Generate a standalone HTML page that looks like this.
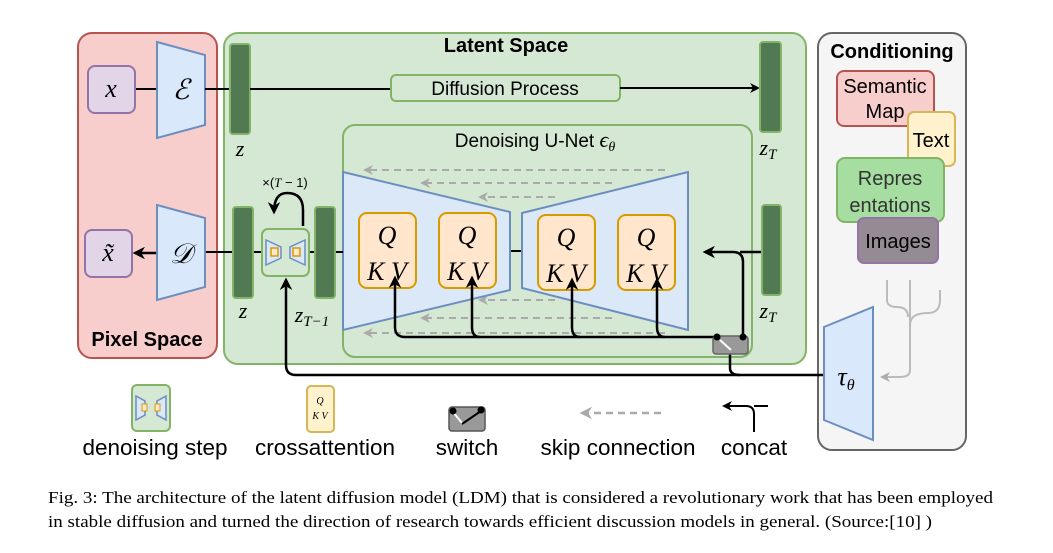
<!DOCTYPE html>
<html><head><meta charset="utf-8"><style>
body{margin:0;background:#fff;width:1053px;height:553px;overflow:hidden}
svg{display:block}
.s{font-family:"Liberation Sans",sans-serif}
.m{font-family:"Liberation Serif",serif;font-style:italic}
</style></head><body>
<svg width="1053" height="553" viewBox="0 0 1053 553">
<defs>
<marker id="a" viewBox="0 0 10 10" refX="8" refY="5" markerWidth="5" markerHeight="5" orient="auto"><path d="M0,0 L10,5 L0,10 L3,5z" fill="#000"/></marker>
<marker id="g" viewBox="0 0 10 10" refX="8" refY="5" markerWidth="5" markerHeight="5" orient="auto"><path d="M0,0 L10,5 L0,10 L3,5z" fill="#aaa"/></marker>
</defs>
<rect x="78" y="33" width="139" height="325" rx="14" fill="#f8cecc" stroke="#b85450" stroke-width="2"/>
<text x="147" y="346" class="s" font-size="20" font-weight="bold" text-anchor="middle">Pixel Space</text>
<rect x="224" y="33" width="582" height="331" rx="14" fill="#d5e8d4" stroke="#82b366" stroke-width="2"/>
<text x="506" y="52" class="s" font-size="20" font-weight="bold" text-anchor="middle">Latent Space</text>
<rect x="818" y="33" width="148" height="417" rx="14" fill="#f5f5f5" stroke="#666" stroke-width="2"/>
<text x="892" y="58" class="s" font-size="20" font-weight="bold" text-anchor="middle">Conditioning</text>
<line x1="135" y1="89" x2="157" y2="89" stroke="#000" stroke-width="2"/>
<rect x="88" y="66" width="47" height="47" rx="7" fill="#e1d5e7" stroke="#9673a6" stroke-width="2"/>
<text x="111" y="97" class="m" font-size="26" text-anchor="middle">x</text>
<polygon points="157,42 205,55 205,125 157,138" fill="#dae8fc" stroke="#6c8ebf" stroke-width="2"/>
<text x="181" y="99" class="m" font-size="28" text-anchor="middle">ℰ</text>
<line x1="205" y1="89" x2="230" y2="89" stroke="#000" stroke-width="2"/>
<rect x="230" y="44" width="20" height="90" rx="3" fill="#527a52" stroke="#82b366" stroke-width="2"/>
<text x="240" y="156" class="m" font-size="22" text-anchor="middle">z</text>
<line x1="250" y1="89" x2="391" y2="89" stroke="#000" stroke-width="2"/>
<rect x="391" y="75" width="229" height="26" rx="5" fill="#d5e8d4" stroke="#82b366" stroke-width="2"/>
<text x="505" y="95" class="s" font-size="19" text-anchor="middle">Diffusion Process</text>
<line x1="620" y1="88" x2="758" y2="88" stroke="#000" stroke-width="2" marker-end="url(#a)"/>
<rect x="760" y="42" width="21" height="90" rx="3" fill="#527a52" stroke="#82b366" stroke-width="2"/>
<text x="768" y="155" class="m" font-size="22" text-anchor="middle">z<tspan font-size="15" dy="4">T</tspan></text>
<rect x="343" y="125" width="409" height="232" rx="12" fill="#d5e8d4" stroke="#82b366" stroke-width="2"/>
<text x="535" y="147" class="s" font-size="19" text-anchor="middle">Denoising U-Net <tspan class="m" font-size="22">ϵ</tspan><tspan class="m" font-size="14" dy="4">θ</tspan></text>
<g stroke="#aaa" stroke-width="2" stroke-dasharray="7,5" fill="none">
<line x1="665" y1="170" x2="365" y2="170" marker-end="url(#g)"/>
<line x1="612" y1="183" x2="422" y2="183" marker-end="url(#g)"/>
<line x1="555" y1="197" x2="480" y2="197" marker-end="url(#g)"/>
<line x1="555" y1="300" x2="480" y2="300" marker-end="url(#g)"/>
<line x1="612" y1="318" x2="422" y2="318" marker-end="url(#g)"/>
<line x1="665" y1="333" x2="365" y2="333" marker-end="url(#g)"/>
</g>
<line x1="510" y1="251" x2="522" y2="251" stroke="#000" stroke-width="2"/>
<polygon points="343,172 510,212 510,290 343,330" fill="#dae8fc" fill-opacity="0.9" stroke="#6c8ebf" stroke-width="2"/>
<polygon points="522,213 688,172 688,330 522,288" fill="#dae8fc" fill-opacity="0.9" stroke="#6c8ebf" stroke-width="2"/>
<g fill="#ffe6cc" stroke="#d79b00" stroke-width="2">
<rect x="359" y="213" width="57" height="75" rx="8"/><rect x="439" y="213" width="57" height="75" rx="8"/>
<rect x="538" y="215" width="57" height="75" rx="8"/><rect x="618" y="215" width="57" height="75" rx="8"/>
</g>
<g class="m" font-size="26" text-anchor="middle">
<text x="387" y="244">Q</text><text x="387" y="280">K V</text>
<text x="467" y="244">Q</text><text x="467" y="280">K V</text>
<text x="566" y="246">Q</text><text x="566" y="282">K V</text>
<text x="646" y="246">Q</text><text x="646" y="282">K V</text>
</g>
<g stroke="#000" stroke-width="2.5" fill="none">
<path d="M720,337 H405 Q395,337 395,327 V278" marker-end="url(#a)"/>
<path d="M480,337 Q472,337 472,327 V278" marker-end="url(#a)"/>
<path d="M580,337 Q572,337 572,327 V280" marker-end="url(#a)"/>
<path d="M665,337 Q657,337 657,327 V280" marker-end="url(#a)"/>
<path d="M743,337 V262 Q743,252 733,252 H705" marker-end="url(#a)"/>
<line x1="762" y1="252" x2="740" y2="252"/>
<path d="M730,350 V368 Q730,375 740,375 H824"/>
<path d="M740,375 H296 Q286,375 286,365 V280" marker-end="url(#a)"/>
</g>
<rect x="713" y="336" width="35" height="18" rx="3" fill="#999" stroke="#666" stroke-width="1.5"/>
<line x1="720" y1="340" x2="731" y2="350" stroke="#fff" stroke-width="2"/>
<circle cx="717" cy="337" r="3.5" fill="#000"/><circle cx="743" cy="337" r="3.5" fill="#000"/>
<rect x="762" y="205" width="19" height="90" rx="3" fill="#527a52" stroke="#82b366" stroke-width="2"/>
<text x="768" y="318" class="m" font-size="22" text-anchor="middle">z<tspan font-size="15" dy="4">T</tspan></text>
<line x1="205" y1="252" x2="233" y2="252" stroke="#000" stroke-width="2"/>
<line x1="253" y1="252" x2="343" y2="252" stroke="#000" stroke-width="2"/>
<rect x="85" y="230" width="47" height="47" rx="7" fill="#e1d5e7" stroke="#9673a6" stroke-width="2"/>
<text x="108" y="261" class="m" font-size="26" text-anchor="middle">x̃</text>
<line x1="157" y1="253" x2="135" y2="253" stroke="#000" stroke-width="2.5" marker-end="url(#a)"/>
<polygon points="157,205 205,218 205,287 157,300" fill="#dae8fc" stroke="#6c8ebf" stroke-width="2"/>
<text x="181" y="263" class="m" font-size="28" text-anchor="middle">𝒟</text>
<rect x="233" y="207" width="20" height="91" rx="3" fill="#527a52" stroke="#82b366" stroke-width="2"/>
<text x="243" y="318" class="m" font-size="22" text-anchor="middle">z</text>
<rect x="262" y="229" width="47" height="47" rx="6" fill="#d5e8d4" stroke="#82b366" stroke-width="2"/>
<polygon points="266,240 281,247 281,258 266,265" fill="#dae8fc" stroke="#6c8ebf" stroke-width="1.5"/>
<polygon points="305,240 290,247 290,258 305,265" fill="#dae8fc" stroke="#6c8ebf" stroke-width="1.5"/>
<rect x="271" y="248" width="7" height="8" fill="#ffe6cc" stroke="#d79b00" stroke-width="1.5"/>
<rect x="293" y="248" width="7" height="8" fill="#ffe6cc" stroke="#d79b00" stroke-width="1.5"/>
<rect x="315" y="207" width="20" height="91" rx="3" fill="#527a52" stroke="#82b366" stroke-width="2"/>
<text x="312" y="322" class="m" font-size="22" text-anchor="middle">z<tspan font-size="15" dy="4">T−1</tspan></text>
<path d="M303,226 V210 Q303,193 287,193 Q274,193 274,212" stroke="#000" stroke-width="2.5" fill="none" marker-end="url(#a)"/>
<text x="285" y="187" class="s" font-size="13" text-anchor="middle">×(<tspan class="m">T</tspan> − 1)</text>
<rect x="837" y="71" width="97" height="55" rx="7" fill="#f8cecc" stroke="#b85450" stroke-width="2"/>
<text x="885" y="93" class="s" font-size="20" text-anchor="middle">Semantic</text>
<text x="885" y="118" class="s" font-size="20" text-anchor="middle">Map</text>
<rect x="908" y="112" width="47" height="54" rx="6" fill="#fff2cc" stroke="#d6b656" stroke-width="2"/>
<text x="931" y="147" class="s" font-size="20" text-anchor="middle">Text</text>
<rect x="837" y="158" width="107" height="64" rx="8" fill="#a5dea0" stroke="#82b366" stroke-width="2"/>
<text x="890" y="185" class="s" font-size="20" text-anchor="middle" fill="#333">Repres</text>
<text x="890" y="212" class="s" font-size="20" text-anchor="middle" fill="#333">entations</text>
<rect x="858" y="218" width="80" height="45" rx="6" fill="#958b95" stroke="#9673a6" stroke-width="2"/>
<text x="898" y="248" class="s" font-size="20" text-anchor="middle">Images</text>
<g stroke="#bbb" stroke-width="2" fill="none">
<path d="M887,280 V300 Q887,307 897,307 Q908,307 908,317"/>
<path d="M940,290 V300 Q940,313 928,313 Q910,313 910,325"/>
<path d="M910,280 V370 Q910,377 900,377 H882" marker-end="url(#g)"/>
</g>
<polygon points="824,327 873,307 873,440 824,420" fill="#dae8fc" stroke="#6c8ebf" stroke-width="2"/>
<text x="846" y="385" class="m" font-size="26" text-anchor="middle">τ<tspan font-size="16" dy="5">θ</tspan></text>
<!-- legend -->
<rect x="132" y="385" width="38" height="46" rx="5" fill="#d5e8d4" stroke="#82b366" stroke-width="2"/>
<polygon points="136,396 145,401 145,415 136,420" fill="#dae8fc" stroke="#6c8ebf" stroke-width="1.5"/>
<polygon points="166,396 157,401 157,415 166,420" fill="#dae8fc" stroke="#6c8ebf" stroke-width="1.5"/>
<rect x="142" y="404" width="5" height="7" fill="#ffe6cc" stroke="#d79b00"/>
<rect x="155" y="404" width="5" height="7" fill="#ffe6cc" stroke="#d79b00"/>
<rect x="307" y="386" width="27" height="46" rx="4" fill="#fff2cc" stroke="#d6b656" stroke-width="2"/>
<text x="320" y="404" class="m" font-size="10" text-anchor="middle">Q</text>
<text x="320" y="419" class="m" font-size="10" text-anchor="middle">K V</text>
<rect x="449" y="407" width="36" height="24" rx="3" fill="#999" stroke="#555" stroke-width="1.5"/>
<line x1="453" y1="412" x2="462" y2="423" stroke="#fff" stroke-width="2"/><line x1="462" y1="424" x2="481" y2="411" stroke="#000" stroke-width="2"/>
<circle cx="453" cy="411" r="3.5" fill="#000"/><circle cx="481" cy="410" r="3.5" fill="#000"/>
<line x1="661" y1="413" x2="582" y2="413" stroke="#aaa" stroke-width="2.5" stroke-dasharray="7,5" marker-end="url(#g)"/>
<path d="M754,432 V414 Q754,406 746,406 H724" stroke="#000" stroke-width="2" fill="none" marker-end="url(#a)"/>
<line x1="754" y1="406" x2="768" y2="406" stroke="#000" stroke-width="2"/>
<g class="s" font-size="22.5" text-anchor="middle">
<text x="155" y="455">denoising step</text>
<text x="325" y="455">crossattention</text>
<text x="467" y="455">switch</text>
<text x="618" y="455">skip connection</text>
<text x="754" y="455">concat</text>
</g>
<g font-family="Liberation Serif,serif" font-size="17">
<text x="48" y="503" textLength="945" lengthAdjust="spacingAndGlyphs">Fig. 3: The architecture of the latent diffusion model (LDM) that is considered a revolutionary work that has been employed</text>
<text x="48" y="527" textLength="884" lengthAdjust="spacingAndGlyphs">in stable diffusion and turned the direction of research towards efficient discussion models in general. (Source:[10] )</text>
</g>
</svg>
</body></html>
